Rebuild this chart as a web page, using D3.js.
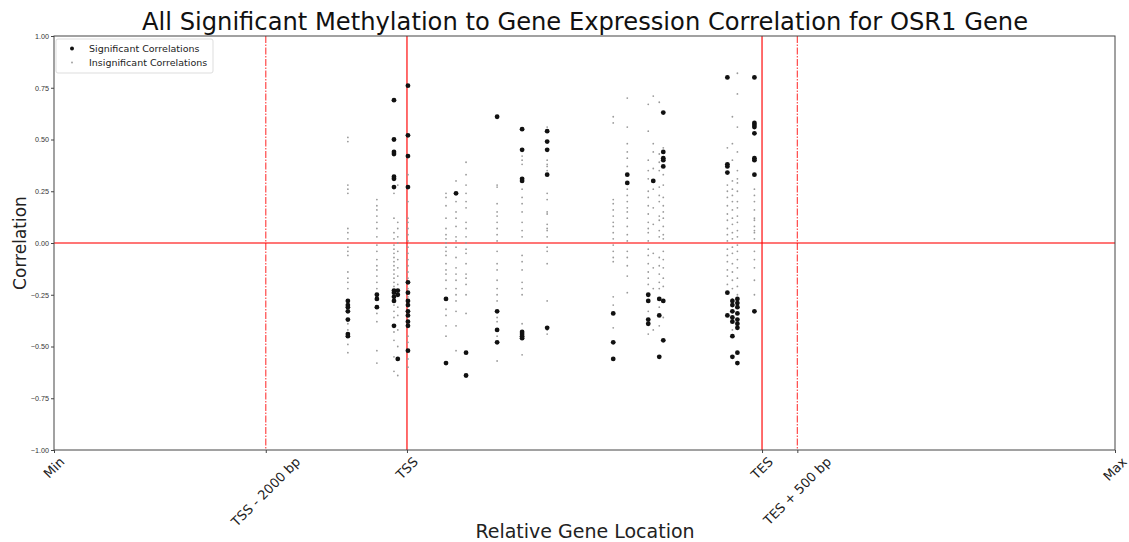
<!DOCTYPE html>
<html>
<head>
<meta charset="utf-8">
<script src="https://cdn.jsdelivr.net/npm/d3@7"></script>
<style>
  body { margin: 0; background: #fff; }
  svg { font-family: "DejaVu Sans", sans-serif; }
</style>
</head>
<body>
<div id="chart"></div>
<script>
// Gene landmarks (bp relative to TSS)
const landmarkNames = ["Min", "TSS - 2000 bp", "TSS", "TES", "TES + 500 bp", "Max"];
const landmarkPos = [-5000, -2000, 0, 5030, 5530, 10030];

// CpG site positions (bp relative to TSS)
const sites = [-837, -426, -184, -130, 14, 553, 695, 837, 1277, 1631, 1986,
    2922, 3121, 3418, 3489, 3574, 3631, 4539, 4610, 4681, 4922];

// significant correlations per site
const sigValues = [
    [-0.28, -0.30, -0.31, -0.33, -0.37, -0.44, -0.45],
    [-0.25, -0.27, -0.31],
    [0.69, 0.50, 0.44, 0.43, 0.32, 0.31, 0.27, -0.23, -0.24, -0.26, -0.28, -0.40],
    [-0.23, -0.25, -0.56],
    [0.76, 0.52, 0.42, 0.27, -0.19, -0.24, -0.28, -0.30, -0.33, -0.35, -0.38, -0.40, -0.52],
    [-0.27, -0.58],
    [0.24],
    [-0.53, -0.64],
    [0.61, -0.33, -0.42, -0.48],
    [0.55, 0.45, 0.31, 0.30, -0.43, -0.44, -0.45, -0.46],
    [0.54, 0.49, 0.45, 0.33, -0.41],
    [-0.34, -0.48, -0.56],
    [0.33, 0.29],
    [-0.25, -0.28, -0.37, -0.39],
    [0.30],
    [-0.27, -0.35, -0.55],
    [0.63, 0.44, 0.41, 0.40, 0.37, -0.28, -0.47],
    [0.80, 0.38, 0.37, 0.34, -0.24, -0.35],
    [-0.28, -0.30, -0.33, -0.36, -0.38, -0.45, -0.55],
    [-0.27, -0.29, -0.31, -0.34, -0.37, -0.39, -0.41, -0.53, -0.58],
    [0.80, 0.58, 0.57, 0.56, 0.53, 0.41, 0.40, 0.33, -0.33]
];

// insignificant correlations per site
const insigValues = [
    [0.51, 0.49, 0.28, 0.26, 0.24, 0.07, 0.05, 0.02, -0.02, -0.04, -0.06, -0.14, -0.17, -0.19, -0.22, -0.39, -0.42, -0.49, -0.53],
    [0.21, 0.18, 0.16, 0.13, 0.10, 0.07, 0.03, -0.01, -0.04, -0.08, -0.11, -0.13, -0.16, -0.19, -0.22, -0.34, -0.38, -0.52, -0.58],
    [0.24, 0.12, 0.05, 0.02, -0.01, -0.03, -0.05, -0.07, -0.09, -0.11, -0.13, -0.15, -0.17, -0.19, -0.21, -0.30, -0.33, -0.36, -0.43, -0.47, -0.55, -0.62],
    [0.28, 0.10, 0.07, 0.03, 0.00, -0.04, -0.08, -0.12, -0.16, -0.20, -0.31, -0.35, -0.42, -0.50, -0.64],
    [0.33, 0.20, 0.12, 0.10, 0.07, 0.04, 0.01, -0.02, -0.05, -0.08, -0.11, -0.14, -0.17, -0.22, -0.26, -0.45, -0.48, -0.56, -0.60],
    [0.24, 0.22, 0.18, 0.12, 0.07, 0.04, 0.02, 0.00, -0.02, -0.04, -0.06, -0.10, -0.13, -0.15, -0.18, -0.22, -0.32, -0.35, -0.40, -0.45],
    [0.30, 0.20, 0.15, 0.12, 0.08, 0.03, 0.01, -0.02, -0.07, -0.12, -0.15, -0.18, -0.22, -0.25, -0.28, -0.33, -0.40, -0.52],
    [0.39, 0.33, 0.28, 0.24, 0.20, 0.17, 0.10, 0.07, 0.03, 0.00, -0.03, -0.05, -0.10, -0.15, -0.17, -0.20, -0.25, -0.34],
    [0.28, 0.27, 0.19, 0.15, 0.13, 0.10, 0.07, 0.04, 0.01, -0.04, -0.10, -0.13, -0.18, -0.22, -0.25, -0.28, -0.36, -0.38, -0.45, -0.57],
    [0.42, 0.40, 0.38, 0.26, 0.22, 0.19, 0.15, 0.10, 0.06, 0.03, -0.06, -0.09, -0.13, -0.19, -0.22, -0.25, -0.39, -0.54],
    [0.56, 0.40, 0.38, 0.37, 0.35, 0.24, 0.21, 0.15, 0.14, 0.09, 0.07, 0.06, 0.03, -0.02, -0.04, -0.10, -0.28, -0.42, -0.44],
    [0.61, 0.58, 0.21, 0.19, 0.16, 0.13, 0.10, 0.08, 0.05, 0.02, -0.01, -0.04, -0.07, -0.09, -0.26, -0.30, -0.41],
    [0.70, 0.56, 0.48, 0.44, 0.41, 0.37, 0.26, 0.23, 0.20, 0.17, 0.15, 0.12, 0.08, 0.04, 0.01, -0.04, -0.07, -0.11, -0.16, -0.24],
    [0.67, 0.54, 0.40, 0.35, 0.31, 0.25, 0.22, 0.18, 0.14, 0.10, 0.07, 0.05, 0.01, -0.03, -0.06, -0.10, -0.14, -0.17, -0.20, -0.33, -0.44],
    [0.71, 0.48, 0.44, 0.36, 0.26, 0.17, 0.09, -0.05, -0.12, -0.22, -0.42],
    [0.68, 0.43, 0.39, 0.35, 0.27, 0.23, 0.20, 0.13, 0.11, 0.06, 0.03, -0.07, -0.11, -0.15, -0.19, -0.22, -0.31, -0.40],
    [0.46, 0.33, 0.28, 0.22, 0.18, 0.15, 0.12, 0.08, 0.04, 0.02, -0.04, -0.08, -0.12, -0.17, -0.21, -0.36],
    [0.46, 0.28, 0.25, 0.22, 0.18, 0.14, 0.11, 0.07, 0.04, 0.01, -0.03, -0.06, -0.09, -0.13, -0.16, -0.20],
    [0.61, 0.48, 0.40, 0.30, 0.26, 0.23, 0.20, 0.16, 0.12, 0.09, 0.05, 0.02, -0.02, -0.05, -0.10, -0.14, -0.18, -0.22, -0.27, -0.42],
    [0.82, 0.72, 0.56, 0.44, 0.35, 0.31, 0.29, 0.25, 0.20, 0.17, 0.13, 0.10, 0.06, 0.03, -0.01, -0.04, -0.08, -0.12, -0.17, -0.21, -0.25],
    [0.26, 0.23, 0.20, 0.16, 0.12, 0.11, 0.08, 0.06, 0.05, 0.02, -0.04, -0.08, -0.12, -0.18, -0.25]
];

const yTicks = [1.00, 0.75, 0.50, 0.25, 0.00, -0.25, -0.50, -0.75, -1.00];

const width = 1129;
const height = 542;
const margin = { top: 36, right: 14, bottom: 92, left: 54 };
const plotW = width - margin.left - margin.right;
const plotH = height - margin.top - margin.bottom;

const svg = d3.select("#chart")
    .append("svg")
    .attr("width", width)
    .attr("height", height);

const g = svg.append("g")
    .attr("transform", `translate(${margin.left},${margin.top})`);

// Scales
const x = d3.scaleLinear()
    .domain([landmarkPos[0], landmarkPos[landmarkPos.length - 1]])
    .range([0, plotW]);

const y = d3.scaleLinear()
    .domain([-1, 1])
    .range([plotH, 0]);

// flatten point lists
const insigPts = [];
const sigPts = [];
sites.forEach((s, i) => {
    insigValues[i].forEach(v => insigPts.push({ pos: s, r: v }));
    sigValues[i].forEach(v => sigPts.push({ pos: s, r: v }));
});

// reference lines
const lineColor = "rgba(255,0,0,0.72)";
landmarkNames.forEach((name, i) => {
    if (name === "Min" || name === "Max") return;
    const dashed = name.includes("bp");
    g.append("line")
        .attr("x1", x(landmarkPos[i])).attr("x2", x(landmarkPos[i]))
        .attr("y1", 0).attr("y2", plotH)
        .attr("stroke", lineColor)
        .attr("stroke-width", dashed ? 1.2 : 1.6)
        .attr("stroke-dasharray", dashed ? "7,1.5,1.5,1.5" : null);
});

g.append("line")
    .attr("x1", 0).attr("x2", plotW)
    .attr("y1", y(0)).attr("y2", y(0))
    .attr("stroke", lineColor)
    .attr("stroke-width", 1.6);

// points
g.selectAll("circle.insig")
    .data(insigPts)
    .enter()
    .append("circle")
    .attr("class", "insig")
    .attr("cx", d => x(d.pos))
    .attr("cy", d => y(d.r))
    .attr("r", 0.9)
    .attr("fill", "#9a9a9a");

g.selectAll("circle.sig")
    .data(sigPts)
    .enter()
    .append("circle")
    .attr("class", "sig")
    .attr("cx", d => x(d.pos))
    .attr("cy", d => y(d.r))
    .attr("r", 2.4)
    .attr("fill", "#111");

// frame
g.append("rect")
    .attr("width", plotW)
    .attr("height", plotH)
    .attr("fill", "none")
    .attr("stroke", "#444")
    .attr("stroke-width", 1);

// Y axis
const yAxis = g.append("g")
    .call(d3.axisLeft(y).tickValues(yTicks).tickSize(3).tickPadding(2)
        .tickFormat(d => d3.format(".2f")(d).replace("-", "\u2212")));
yAxis.select(".domain").remove();
yAxis.selectAll("text").attr("font-size", 7.2).attr("fill", "#333");
yAxis.selectAll("line").attr("stroke", "#444");

// X axis
const xAxis = g.append("g")
    .attr("transform", `translate(0,${plotH})`)
    .call(d3.axisBottom(x).tickValues(landmarkPos).tickSize(3).tickFormat(""));
xAxis.select(".domain").remove();
xAxis.selectAll("line").attr("stroke", "#444");

// rotated x tick labels (bbox centred under tick)
const labelFont = 13;
landmarkNames.forEach((name, i) => {
    const t = g.append("text")
        .attr("font-size", labelFont)
        .attr("fill", "#222")
        .attr("text-anchor", "middle")
        .attr("dominant-baseline", "central")
        .text(name);
    const L = t.node().getComputedTextLength();
    const bh = (L + labelFont) * Math.SQRT1_2;
    const cx = x(landmarkPos[i]);
    const cy = plotH + 5 + bh / 2;
    t.attr("transform", `translate(${cx},${cy}) rotate(-45)`);
});

// legend
const legend = g.append("g").attr("transform", "translate(2,3)");
legend.append("rect")
    .attr("width", 157).attr("height", 34)
    .attr("rx", 2)
    .attr("fill", "#fff")
    .attr("stroke", "#ddd");
legend.append("circle").attr("cx", 16).attr("cy", 9.5).attr("r", 2).attr("fill", "#111");
legend.append("circle").attr("cx", 16).attr("cy", 23.5).attr("r", 0.9).attr("fill", "#9a9a9a");
legend.append("text").attr("x", 33).attr("y", 13).attr("font-size", 9.5).attr("fill", "#222")
    .text("Significant Correlations");
legend.append("text").attr("x", 33).attr("y", 27).attr("font-size", 9.5).attr("fill", "#222")
    .text("Insignificant Correlations");

// titles
svg.append("text")
    .attr("x", 585).attr("y", 30)
    .attr("text-anchor", "middle")
    .attr("font-size", 24.2)
    .attr("fill", "#111")
    .text("All Significant Methylation to Gene Expression Correlation for OSR1 Gene");

svg.append("text")
    .attr("x", 585).attr("y", 538)
    .attr("text-anchor", "middle")
    .attr("font-size", 19)
    .attr("fill", "#222")
    .text("Relative Gene Location");

svg.append("text")
    .attr("transform", `translate(26,${margin.top + plotH / 2}) rotate(-90)`)
    .attr("text-anchor", "middle")
    .attr("font-size", 17)
    .attr("fill", "#222")
    .text("Correlation");
</script>
</body>
</html>
